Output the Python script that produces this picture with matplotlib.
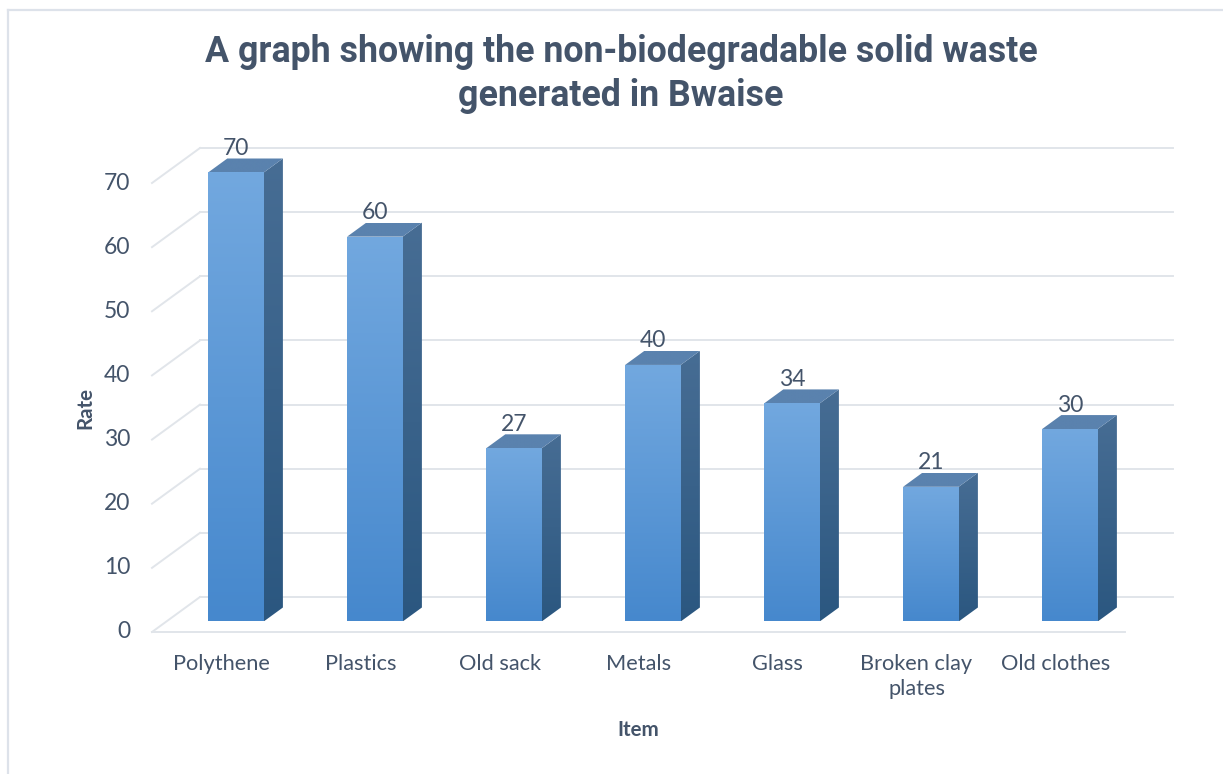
import numpy as np
import matplotlib
matplotlib.use("Agg")
import matplotlib.pyplot as plt
from matplotlib.patches import Polygon
from matplotlib.lines import Line2D
from matplotlib.colors import LinearSegmentedColormap

# ---- data ----
categories = ["Polythene", "Plastics", "Old sack", "Metals", "Glass",
              "Broken clay\nplates", "Old clothes"]
values = [70, 60, 27, 40, 34, 21, 30]
yticks = [0, 10, 20, 30, 40, 50, 60, 70]
title = "A graph showing the non-biodegradable solid waste\ngenerated in Bwaise"
xlabel = "Item"
ylabel = "Rate"

TEXT = "#44546a"
GRID = "#e1e5ea"

W, H = 1223, 774
fig = plt.figure(figsize=(W / 100, H / 100), dpi=100)
fig.patch.set_facecolor("white")
renderer = fig.canvas.get_renderer()

def fit(text, target_px, **kw):
    t = fig.text(0, 0, text, fontsize=10, **kw)
    w = t.get_window_extent(renderer).width
    t.remove()
    return 10 * target_px / w

# geometry (pixels of reference)
px_x = 139.0           # px per category
px_y = (632 - 183) / 70.0
x0_px, y0_px = 152, 632
xmin, xmax, ymin, ymax = -0.2, 7.6, -2, 80
left = (x0_px + xmin * px_x) / W
width = (xmax - xmin) * px_x / W
top_px = y0_px - ymax * px_y
bot_px = y0_px - ymin * px_y
ax = fig.add_axes([left, (H - bot_px) / H, width, (bot_px - top_px) / H])
ax.set_xlim(xmin, xmax)
ax.set_ylim(ymin, ymax)
ax.axis("off")

DX = 48 / px_x   # wall depth offset (x)
DY = 35 / px_y   # wall depth offset (y)
n = len(categories)

# back wall gridlines + side wall diagonals
for v in yticks:
    ax.add_line(Line2D([DX, n + DX], [v + DY, v + DY], color=GRID, lw=1.4, zorder=1))
    ax.add_line(Line2D([0, DX], [v, v + DY], color=GRID, lw=1.4, zorder=1))
ax.add_line(Line2D([0, n], [0, 0], color=GRID, lw=1.4, zorder=1))

front_cmap = LinearSegmentedColormap.from_list("f", ["#4688cd", "#72a8df"])
side_cmap = LinearSegmentedColormap.from_list("s", ["#2b5780", "#476d94"])
top_cmap = LinearSegmentedColormap.from_list("t", ["#5a82ae", "#5a82ae"])

grad = np.linspace(0, 1, 256).reshape(-1, 1)

def face(pts, cmap, z):
    poly = Polygon(pts, closed=True, facecolor="none", edgecolor="none", zorder=z)
    ax.add_patch(poly)
    xs = [p[0] for p in pts]
    ys = [p[1] for p in pts]
    im = ax.imshow(grad, cmap=cmap, origin="lower", aspect="auto",
                   extent=[min(xs), max(xs), min(ys), max(ys)], zorder=z,
                   interpolation="bilinear")
    im.set_clip_path(poly)

d0, d1 = 0.3, 0.7
bw = 0.4
fs_tick = fit("Polythene", 97, family="Lato")
for i, v in enumerate(values):
    cx = i + 0.5 + d0 * DX
    xa, xb = cx - bw / 2, cx + bw / 2
    yb = d0 * DY
    yt = v + d0 * DY
    ox, oy = (d1 - d0) * DX, (d1 - d0) * DY
    face([(xa, yb), (xb, yb), (xb, yt), (xa, yt)], front_cmap, 3)
    face([(xb, yb), (xb + ox, yb + oy), (xb + ox, yt + oy), (xb, yt)], side_cmap, 3)
    face([(xa, yt), (xb, yt), (xb + ox, yt + oy), (xa + ox, yt + oy)], top_cmap, 3)
    ax.text(cx, v + 0.8 * DY, str(v), ha="center", va="baseline",
            fontsize=fs_tick * 1.05, family="Lato", color=TEXT, zorder=5)

ax.set_xlim(xmin, xmax)
ax.set_ylim(ymin, ymax)

# y tick labels
for v in yticks:
    ax.text(-22 / px_x, v, str(v), ha="right", va="center",
            fontsize=fs_tick * 1.05, family="Lato", color=TEXT)
# x tick labels
for i, c in enumerate(categories):
    ax.text(i + 0.5, -22 / px_y, c, ha="center", va="top",
            fontsize=fs_tick, family="Lato", color=TEXT, linespacing=1.3)

fs_lab = fit("Item", 42, family="Lato", weight="bold")
fig.text(638 / W, 1 - 730 / H, xlabel, ha="center", va="center",
         fontsize=fs_lab, family="Lato", weight="bold", color=TEXT)
fig.text(85 / W, 1 - 408 / H, ylabel, ha="center", va="center", rotation=90,
         fontsize=fs_lab, family="Lato", weight="bold", color=TEXT)

fs_title = fit("A graph showing the non-biodegradable solid waste", 838,
               family="Roboto", weight="bold")
fig.text(621 / W, 1 - 74 / H, title, ha="center", va="center",
         fontsize=fs_title, family="Roboto", weight="bold", color=TEXT,
         linespacing=1.25)

# outer border (top & left)
fig.add_artist(Line2D([8 / W, 1], [1 - 10 / H, 1 - 10 / H], transform=fig.transFigure,
                      color="#dde2ea", lw=1.6))
fig.add_artist(Line2D([8 / W, 8 / W], [0, 1 - 10 / H], transform=fig.transFigure,
                      color="#dde2ea", lw=1.6))

fig.savefig("out.png", dpi=100, facecolor="white")
